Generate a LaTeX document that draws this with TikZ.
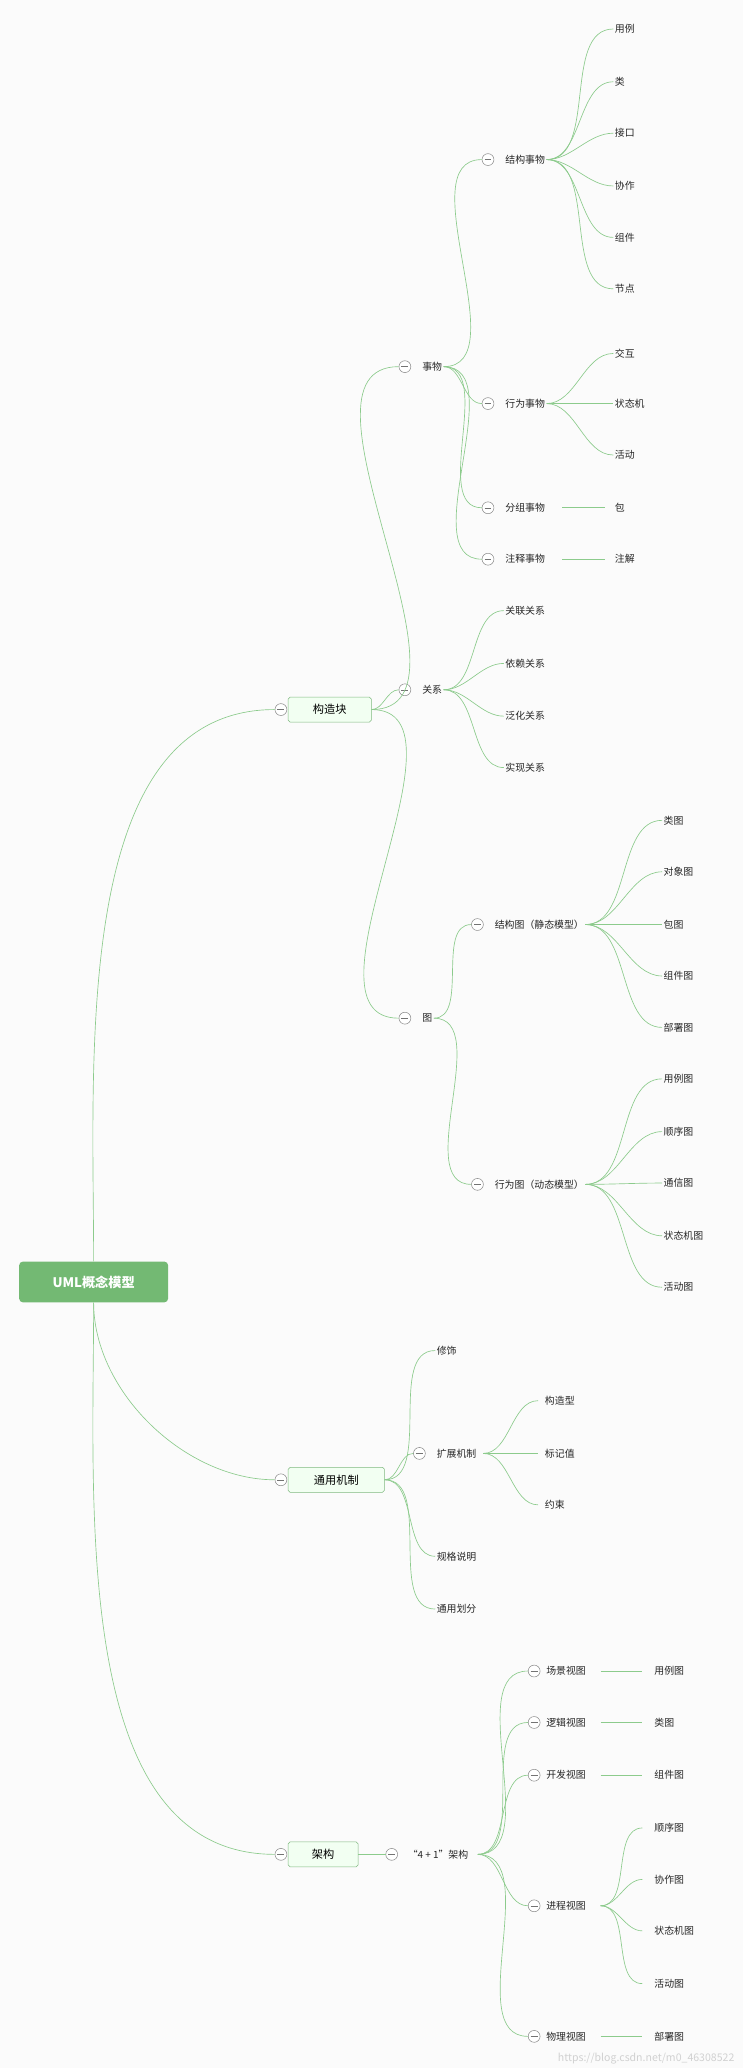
\documentclass[tikz,border=0pt]{standalone}
\usepackage{fontspec}
\setmainfont{Noto Sans CJK SC}
\begin{document}
\begin{tikzpicture}[x=1pt,y=-1pt,
  txt/.style={anchor=west,inner sep=1pt,font=\fontsize{7.5}{8}\selectfont,text=black!85},
  lbox/.style={draw=green!45!black!50,fill=green!5,rounded corners=1.5pt,minimum height=19pt,inner sep=2pt,font=\fontsize{8.5}{9}\selectfont},
  tog/.style={circle,draw=black!45,fill=white,minimum size=9pt,inner sep=0pt,path picture={\draw[black!55] ([xshift=-2.6pt]path picture bounding box.center)--([xshift=2.6pt]path picture bounding box.center);}},
  ln/.style={draw=green!55!black!45,line width=0.5pt},
  cv/.style={ln,out=0,in=180,looseness=0.9}]
\fill[black!1.5] (0,0) rectangle (563,1568);
\useasboundingbox (0,0) rectangle (563,1568);
% root
\node[fill=green!50!black!55,rounded corners=3pt,minimum width=113pt,minimum height=31pt,text=white,font=\bfseries\fontsize{10}{11}\selectfont] (root) at (71,972) {UML概念模型};
\node[lbox,minimum width=63pt] (gzk) at (250,538) {构造块};
\node[lbox,minimum width=73pt] (tyjz) at (255,1122) {通用机制};
\node[lbox,minimum width=53pt] (jg) at (245,1406) {架构};
\node[tog] (c1) at (213,538) {};
\node[tog] (c2) at (213,1122) {};
\node[tog] (c3) at (213,1406) {};
\draw[ln] (root.north) to[out=90,in=180,looseness=0.9] (c1.west);
\draw[ln] (root.south) to[out=-90,in=180,looseness=0.9] (c2.west);
\draw[ln] (root.south) to[out=-90,in=180,looseness=0.9] (c3.west);
% level 2 under 构造块
\node[tog] (cw) at (307,278) {}; \node[txt] (sw) at (319,278) {事物};
\node[tog] (cg) at (307,523) {}; \node[txt] (gx) at (319,523) {关系};
\node[tog] (ct) at (307,772) {}; \node[txt] (tu) at (319,772) {图};
\foreach \c in {cw,cg,ct} \draw[cv] (gzk.east) to (\c.west);
% 事物
\node[tog] (c11) at (370,121) {}; \node[txt] (jgsw) at (382,121) {结构事物};
\node[tog] (c12) at (370,306) {}; \node[txt] (xwsw) at (382,306) {行为事物};
\node[tog] (c13) at (370,385) {}; \node[txt] (fzsw) at (382,385) {分组事物};
\node[tog] (c14) at (370,424) {}; \node[txt] (zssw) at (382,424) {注释事物};
\foreach \c in {c11,c12,c13,c14} \draw[cv] (sw.east) to (\c.west);
\foreach \n/\t/\y in {a1/用例/22,a2/类/62,a3/接口/101,a4/协作/141,a5/组件/180,a6/节点/219}{
  \node[txt] (\n) at (465,\y) {\t}; \draw[cv] (jgsw.east) to (\n.west);}
\foreach \n/\t/\y in {b1/交互/268,b2/状态机/306,b3/活动/345}{
  \node[txt] (\n) at (465,\y) {\t}; \draw[cv] (xwsw.east) to (\n.west);}
\node[txt] (bao) at (465,385) {包}; \draw[ln] ([xshift=12pt]fzsw.east) -- ([xshift=-6pt]bao.west);
\node[txt] (zj) at (465,424) {注解}; \draw[ln] ([xshift=12pt]zssw.east) -- ([xshift=-6pt]zj.west);
% 关系
\foreach \n/\t/\y in {g1/关联关系/463,g2/依赖关系/503,g3/泛化关系/543,g4/实现关系/582}{
  \node[txt] (\n) at (382,\y) {\t}; \draw[cv] (gx.east) to (\n.west);}
% 图
\node[tog] (ct1) at (362,701) {}; \node[txt] (jgt) at (374,701) {结构图（静态模型）};
\node[tog] (ct2) at (362,898) {}; \node[txt] (xwt) at (374,898) {行为图（动态模型）};
\foreach \c in {ct1,ct2} \draw[cv] (tu.east) to (\c.west);
\foreach \n/\t/\y in {t1/类图/622,t2/对象图/661,t3/包图/701,t4/组件图/740,t5/部署图/779}{
  \node[txt] (\n) at (502,\y) {\t}; \draw[cv] (jgt.east) to (\n.west);}
\foreach \n/\t/\y in {u1/用例图/818,u2/顺序图/858,u3/通信图/897,u4/状态机图/937,u5/活动图/976}{
  \node[txt] (\n) at (502,\y) {\t}; \draw[cv] (xwt.east) to (\n.west);}
% 通用机制
\node[txt] (xs) at (330,1024) {修饰};
\node[tog] (ck) at (318,1102) {}; \node[txt] (kz) at (330,1102) {扩展机制};
\node[txt] (gg) at (330,1180) {规格说明};
\node[txt] (hf) at (330,1220) {通用划分};
\foreach \c in {xs,ck,gg,hf} \draw[cv] (tyjz.east) to (\c.west);
\foreach \n/\t/\y in {k1/构造型/1062,k2/标记值/1102,k3/约束/1141}{
  \node[txt] (\n) at (412,\y) {\t}; \draw[cv] ([xshift=4pt]kz.east) to ([xshift=-4pt]\n.west);}
% 架构
\node[tog] (c41) at (297,1406) {}; \node[txt] (sj) at (308,1406) {“4 + 1”架构};
\draw[ln] (jg.east) -- (c41.west);
\node[tog] (v1) at (405,1267) {}; \node[txt] (cj) at (413,1267) {场景视图};
\node[tog] (v2) at (405,1306) {}; \node[txt] (lj) at (413,1306) {逻辑视图};
\node[tog] (v3) at (405,1346) {}; \node[txt] (kf) at (413,1346) {开发视图};
\node[tog] (v4) at (405,1445) {}; \node[txt] (jc) at (413,1445) {进程视图};
\node[tog] (v5) at (405,1544) {}; \node[txt] (wl) at (413,1544) {物理视图};
\foreach \c in {v1,v2,v3,v4,v5} \draw[cv] ([xshift=6pt]sj.east) to (\c.west);
\node[txt] (w1) at (495,1267) {用例图}; \draw[ln] ([xshift=10pt]cj.east) -- ([xshift=-8pt]w1.west);
\node[txt] (w2) at (495,1306) {类图}; \draw[ln] ([xshift=10pt]lj.east) -- ([xshift=-8pt]w2.west);
\node[txt] (w3) at (495,1346) {组件图}; \draw[ln] ([xshift=10pt]kf.east) -- ([xshift=-8pt]w3.west);
\node[txt] (w5) at (495,1544) {部署图}; \draw[ln] ([xshift=10pt]wl.east) -- ([xshift=-8pt]w5.west);
\foreach \n/\t/\y in {p1/顺序图/1386,p2/协作图/1425,p3/状态机图/1464,p4/活动图/1504}{
  \node[txt] (\n) at (495,\y) {\t}; \draw[cv] ([xshift=10pt]jc.east) to ([xshift=-8pt]\n.west);}
\node[anchor=south east,inner sep=1pt,text=black!18,font=\fontsize{8}{9}\selectfont] (wm) at (558,1566) {https://blog.csdn.net/m0\_46308522};
\end{tikzpicture}
\end{document}
